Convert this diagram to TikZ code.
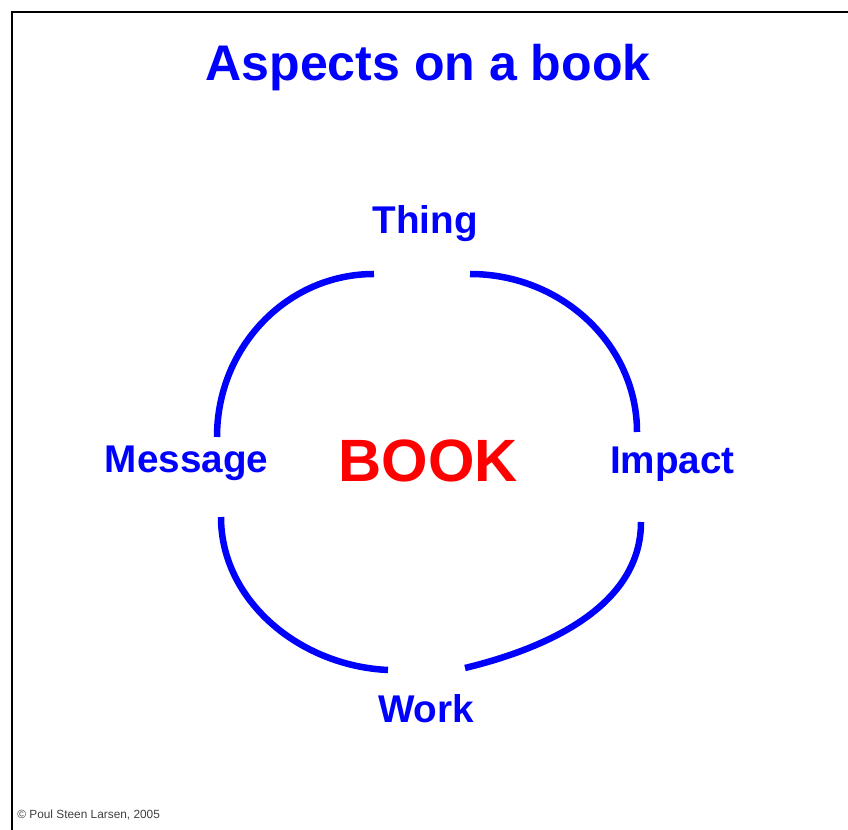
\documentclass[tikz,border=0pt]{standalone}
\usepackage{fontspec}
\setmainfont{Liberation Sans}
\begin{document}
\begin{tikzpicture}[x=0.02cm,y=-0.02cm,
  aspect/.style={text=blue,font=\bfseries\fontsize{22}{26}\selectfont,anchor=base,inner sep=0pt},
  ring/.style={draw=blue,line width=3.7pt}]
 \useasboundingbox (0,0) rectangle (848,830);
 % frame
 \draw[line width=1.6pt] (848,12) -- (12,12) -- (12,830);
 \node[text=blue,font=\bfseries\fontsize{28.5}{34}\selectfont,anchor=base,inner sep=0pt] (title) at (428,81) {Aspects on a book};
 \node[aspect] (thing) at (425,234) {Thing};
 \node[aspect] (message) at (186.5,473) {Message};
 \node[aspect] (impact) at (672.5,474) {Impact};
 \node[aspect] (work) at (426,722) {Work};
 \node[text=red,font=\bfseries\fontsize{34}{40}\selectfont,anchor=base,inner sep=0pt] (book) at (428,482) {BOOK};
 \node[text=black!75,font=\fontsize{6.75}{8}\selectfont,anchor=base west,inner sep=0pt] (copy) at (17,818) {© Poul Steen Larsen, 2005};
 % ends of the four arcs
 \coordinate (TL1) at (374,274);
 \coordinate (TL2) at (217,437);
 \coordinate (TR1) at (470,274);
 \coordinate (TR2) at (637,432);
 \coordinate (BL1) at (221,517);
 \coordinate (BL2) at (388,670);
 \coordinate (BR1) at (641,522);
 \coordinate (BR2) at (465,668);
 \draw[ring] (TL1) .. controls (287,274) and (217,347) .. (TL2);
 \draw[ring] (TR1) .. controls (562,274) and (637,345) .. (TR2);
 \draw[ring] (BL1) .. controls (221,601) and (300,666) .. (BL2);
 \draw[ring] (BR1) .. controls (641,600) and (560,645) .. (BR2);
\end{tikzpicture}
\end{document}
